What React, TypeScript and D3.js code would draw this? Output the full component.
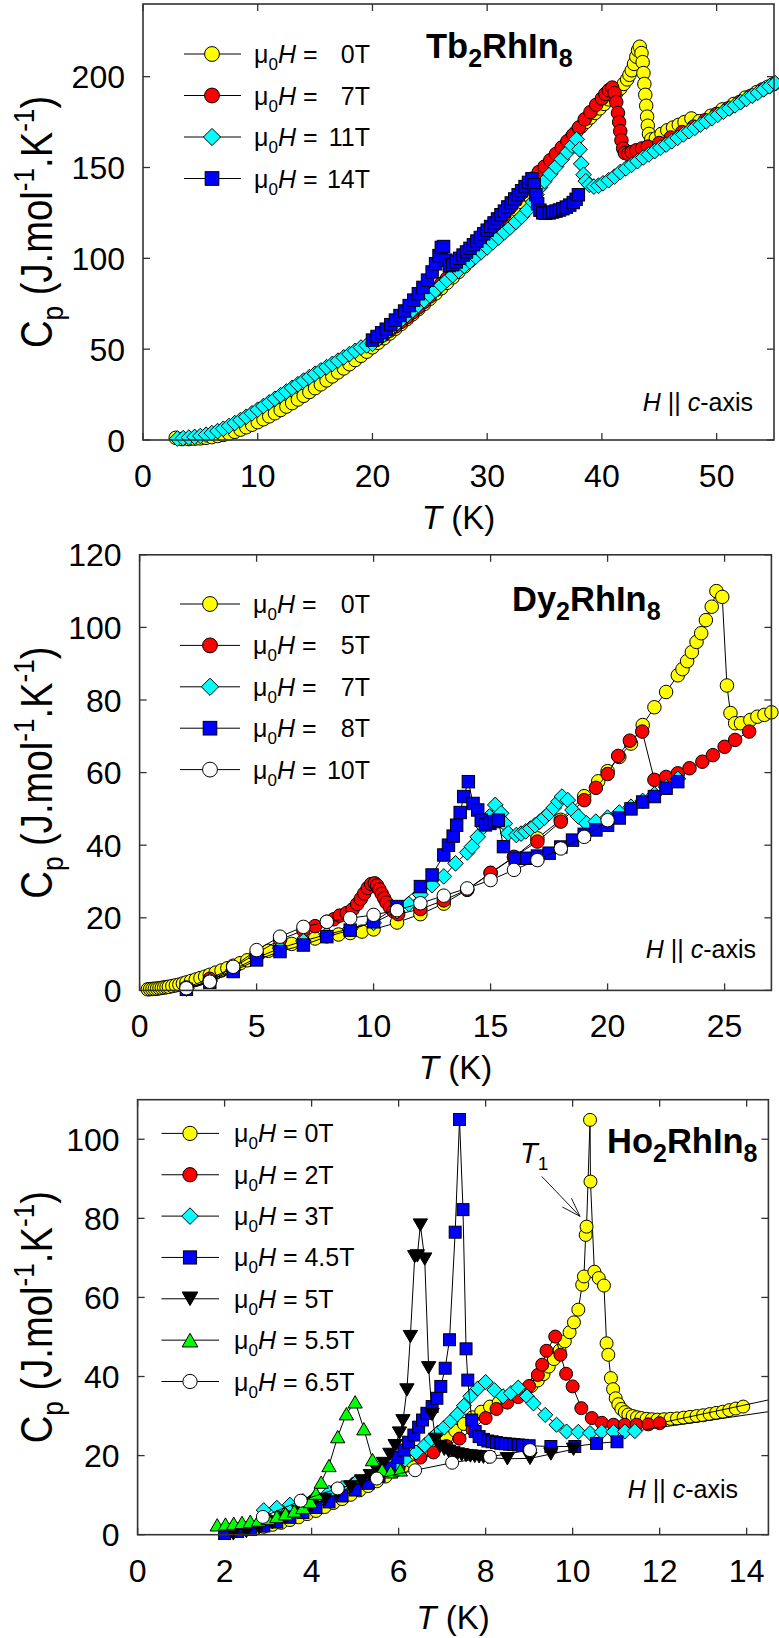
import React from "react";
import * as d3 from "d3";

type Pt = [number, number];
type Shape = "circle" | "square" | "diamond" | "triDown" | "triUp";

// ---------------- Tb2RhIn8 : Cp(T) in fields along c ----------------
const tbH0: Pt[] = [
  [2.85, 1.2], [3.4, 0.5], [4.0, 0.5], [4.5, 0.7], [5.0, 0.9], [5.5, 1.2], [6.0, 1.6], [6.5, 2.2], [7.0, 2.8],
  [7.5, 3.6], [8.0, 4.5], [8.5, 5.7], [9.0, 7.0], [9.5, 8.4], [10.0, 9.8], [10.5, 11.4], [11.0, 13.0],
  [11.5, 14.7], [12.0, 16.5], [12.5, 18.4], [13.0, 20.3], [13.5, 22.3], [14.0, 24.3], [14.5, 26.4],
  [15.0, 28.5], [15.5, 30.6], [16.0, 32.8], [16.5, 35.0], [17.0, 37.2], [17.5, 39.4], [18.0, 41.7],
  [18.5, 44.0], [19.0, 46.3], [19.5, 48.6], [20.0, 51.0], [20.5, 53.5], [21.0, 56.0], [21.5, 58.6],
  [22.0, 61.2], [22.5, 63.8], [23.0, 66.5], [23.5, 69.2], [24.0, 72.0], [24.5, 74.8], [25.0, 77.7],
  [25.5, 80.6], [26.0, 83.5], [26.5, 86.5], [27.0, 89.5], [27.5, 92.5], [28.0, 95.5], [28.5, 98.7],
  [29.0, 101.9], [29.5, 105.1], [30.0, 108.5], [30.5, 112.0], [31.0, 115.6], [31.5, 119.3], [32.0, 123.0],
  [32.5, 127.0], [33.0, 131.0], [33.5, 135.0], [34.0, 139.5], [34.5, 144.0], [35.0, 148.0], [35.4, 151.5],
  [35.8, 155.0], [36.2, 158.0], [36.6, 161.0], [37.0, 164.0], [37.4, 167.0], [37.8, 170.0], [38.2, 172.5],
  [38.6, 175.0], [39.0, 177.5], [39.4, 180.0], [39.8, 182.5], [40.2, 185.0], [40.6, 187.5], [41.0, 189.5],
  [41.3, 191.5], [41.6, 193.5], [41.9, 196.0], [42.2, 198.5], [42.4, 201.0], [42.6, 203.5], [42.8, 207.0],
  [43.0, 211.0], [43.15, 214.5], [43.3, 216.5], [43.45, 213.0], [43.55, 208.0], [43.62, 202.0],
  [43.7, 196.0], [43.78, 190.0], [43.86, 184.0], [43.94, 178.0], [44.0, 173.0], [44.1, 168.5],
  [44.3, 165.5], [44.7, 166.0], [45.2, 168.5], [45.7, 170.5], [46.2, 172.0], [46.7, 173.5], [47.2, 175.0],
  [47.8, 177.0], [48.5, 175.5], [49.5, 178.5], [50.5, 182.0], [51.5, 185.0], [52.5, 188.5], [53.5, 191.5],
  [54.5, 194.5],
];
const tbH7: Pt[] = [
  [20.0, 54.0], [20.5, 56.0], [21.0, 58.0], [21.5, 60.2], [22.0, 62.5], [22.5, 65.0], [23.0, 67.5],
  [23.5, 70.2], [24.0, 73.0], [24.5, 76.0], [25.0, 79.0], [25.5, 82.5], [26.0, 86.0], [26.5, 89.0],
  [27.0, 92.5], [27.5, 95.5], [28.0, 99.0], [28.5, 102.0], [29.0, 105.5], [29.5, 109.0], [30.0, 112.5],
  [30.5, 116.0], [31.0, 120.0], [31.5, 124.0], [32.0, 128.0], [32.5, 132.0], [33.0, 136.0], [33.5, 140.0],
  [34.0, 144.0], [34.5, 147.5], [35.0, 150.5], [35.5, 154.0], [36.0, 157.5], [36.5, 161.0], [37.0, 164.5],
  [37.5, 168.0], [38.0, 172.0], [38.5, 176.5], [39.0, 180.5], [39.5, 184.5], [40.0, 188.0], [40.3, 190.5],
  [40.6, 192.5], [40.9, 194.0], [41.1, 191.0], [41.25, 186.0], [41.4, 180.0], [41.5, 175.0], [41.6, 170.0],
  [41.7, 165.0], [41.85, 160.5], [42.0, 158.0], [42.3, 157.5], [42.6, 158.5], [43.0, 159.5], [43.5, 160.5],
  [44.0, 161.5], [45.0, 163.5], [46.0, 166.5], [47.0, 169.5], [48.0, 172.5], [49.0, 176.0], [50.0, 179.5],
  [51.0, 182.5], [52.0, 186.0], [53.0, 189.5], [54.0, 193.0], [55.0, 196.0],
];
const tbH11: Pt[] = [
  [3.0, 0.8], [3.5, 1.0], [4.0, 1.3], [4.5, 1.7], [5.0, 2.2], [5.5, 2.9], [6.0, 3.8], [6.5, 4.9], [7.0, 6.2],
  [7.5, 7.7], [8.0, 9.3], [8.5, 11.0], [9.0, 12.8], [9.5, 14.7], [10.0, 16.7], [10.5, 18.7], [11.0, 20.7],
  [11.5, 22.7], [12.0, 24.7], [12.5, 26.7], [13.0, 28.7], [13.5, 30.7], [14.0, 32.7], [14.5, 34.6],
  [15.0, 36.5], [15.5, 38.3], [16.0, 40.1], [16.5, 41.9], [17.0, 43.7], [17.5, 45.5], [18.0, 47.3],
  [18.5, 49.1], [19.0, 50.9], [19.5, 52.0], [20.0, 53.0], [20.5, 55.5], [21.0, 58.0], [21.5, 60.6],
  [22.0, 63.3], [22.5, 66.0], [23.0, 68.7], [23.5, 71.4], [24.0, 74.2], [24.5, 76.9], [25.0, 79.7],
  [25.5, 82.4], [26.0, 85.2], [26.5, 88.0], [27.0, 90.7], [27.5, 93.2], [28.0, 95.8], [28.5, 98.3],
  [29.0, 100.9], [29.5, 103.5], [30.0, 106.0], [30.5, 108.8], [31.0, 111.5], [31.5, 114.3], [32.0, 117.0],
  [32.5, 120.0], [33.0, 123.0], [33.5, 126.5], [34.0, 131.0], [34.3, 135.0], [34.6, 139.0], [35.0, 142.5],
  [35.5, 146.5], [36.0, 150.5], [36.5, 154.5], [37.0, 158.5], [37.4, 162.0], [37.8, 165.5], [38.05, 160.0],
  [38.2, 152.0], [38.4, 146.0], [38.6, 142.5], [38.9, 140.5], [39.3, 139.5], [39.7, 140.0], [40.1, 141.3],
  [40.6, 143.0], [41.1, 145.0], [41.6, 147.5], [42.1, 149.5], [42.6, 151.5], [43.1, 153.5], [43.6, 155.5],
  [44.1, 157.2], [44.6, 159.0], [45.1, 160.8], [45.6, 162.6], [46.1, 164.4], [46.6, 166.3], [47.1, 168.2],
  [47.6, 170.0], [48.1, 171.8], [48.6, 173.6], [49.1, 175.4], [49.6, 177.2], [50.1, 179.0], [50.6, 180.7],
  [51.1, 182.5], [51.6, 184.2], [52.1, 186.0], [52.6, 187.7], [53.1, 189.5], [53.6, 191.2], [54.1, 193.0],
  [54.6, 194.7], [55.1, 196.4],
];
const tbH14: Pt[] = [
  [20.0, 55.0], [20.4, 57.0], [20.8, 59.0], [21.2, 61.0], [21.6, 63.5], [22.0, 66.0], [22.4, 68.5],
  [22.8, 71.0], [23.2, 74.0], [23.6, 77.0], [24.0, 80.5], [24.4, 84.0], [24.8, 88.0], [25.2, 92.5],
  [25.5, 97.0], [25.8, 101.5], [26.0, 106.0], [26.2, 106.5], [26.4, 99.0], [26.7, 96.0], [27.0, 96.5],
  [27.3, 98.0], [27.6, 100.0], [27.9, 101.8], [28.2, 103.5], [28.5, 105.5], [28.8, 107.5], [29.1, 109.5],
  [29.4, 111.5], [29.7, 113.5], [30.0, 115.5], [30.3, 117.5], [30.6, 119.5], [30.9, 121.7], [31.2, 124.0],
  [31.5, 126.0], [31.8, 128.3], [32.1, 130.5], [32.4, 132.7], [32.7, 135.0], [33.0, 137.2], [33.3, 139.5],
  [33.6, 141.8], [33.9, 143.8], [34.1, 140.5], [34.25, 135.0], [34.4, 130.0], [34.6, 126.5], [34.85, 125.0],
  [35.1, 124.8], [35.4, 125.0], [35.7, 125.5], [36.0, 126.0], [36.3, 126.6], [36.6, 127.3], [36.9, 128.2],
  [37.2, 129.3], [37.5, 130.7], [37.75, 132.5], [37.95, 135.0],
];
const tbFields = ["0T", "7T", "11T", "14T"];
const tbXTicks = [0, 10, 20, 30, 40, 50];
const tbYTicks = [0, 50, 100, 150, 200];

// ---------------- Dy2RhIn8 ----------------
const dyH0: Pt[] = [
  [0.35, 0.3], [0.45, 0.35], [0.55, 0.4], [0.65, 0.45], [0.75, 0.5], [0.85, 0.6], [0.95, 0.7], [1.05, 0.8],
  [1.15, 0.9], [1.25, 1.0], [1.4, 1.2], [1.55, 1.4], [1.7, 1.6], [1.85, 1.9], [2.0, 2.2], [2.2, 2.6],
  [2.4, 3.0], [2.6, 3.4], [2.8, 3.8], [3.0, 4.3], [3.25, 4.9], [3.5, 5.5], [3.75, 6.1], [4.0, 6.8],
  [4.3, 7.5], [4.6, 8.3], [5.0, 9.6], [5.5, 10.9], [6.0, 11.9], [6.5, 12.8], [7.0, 13.6], [7.5, 14.3],
  [8.0, 14.9], [8.5, 15.4], [9.0, 15.8], [9.5, 16.2], [10.0, 16.8], [11.0, 18.7], [12.0, 21.0], [13.0, 23.9],
  [14.0, 27.7], [15.0, 32.3], [16.0, 36.7], [17.0, 41.9], [18.0, 47.0], [19.0, 53.5], [19.6, 57.6],
  [20.0, 60.4], [20.5, 64.3], [21.0, 68.0], [21.5, 73.1], [22.0, 78.0], [22.5, 82.2], [23.0, 86.8],
  [23.2, 88.5], [23.4, 90.7], [23.6, 93.2], [23.8, 96.0], [24.0, 98.4], [24.2, 102.0], [24.45, 105.7],
  [24.65, 110.0], [24.9, 108.4], [25.1, 84.0], [25.25, 76.4], [25.45, 73.6], [25.7, 73.6], [26.1, 74.5],
  [26.4, 75.4], [26.7, 75.9], [27.0, 76.6],
];
const dyH5: Pt[] = [
  [2.0, 0.8], [3.0, 3.2], [4.0, 6.3], [5.0, 10.2], [6.0, 14.0], [7.0, 16.5], [7.5, 17.7], [8.0, 18.9],
  [8.3, 19.6], [8.55, 20.6], [8.85, 21.3], [9.1, 22.3], [9.3, 23.8], [9.45, 25.2], [9.6, 26.7], [9.75, 28.2],
  [9.9, 29.3], [10.05, 29.5], [10.15, 28.9], [10.25, 27.8], [10.35, 26.6], [10.45, 25.4], [10.55, 24.2],
  [10.7, 22.9], [10.85, 21.8], [11.05, 21.0], [12.0, 22.4], [13.0, 24.8], [14.0, 27.8], [15.0, 32.4],
  [16.0, 36.8], [17.0, 41.0], [18.0, 46.5], [19.0, 52.4], [19.5, 55.8], [20.0, 59.6], [20.45, 64.6],
  [20.95, 68.8], [21.48, 71.3], [22.0, 58.0], [22.5, 58.8], [23.0, 59.8], [23.5, 61.2], [24.05, 63.0],
  [24.5, 64.8], [25.0, 67.1], [25.45, 69.0], [26.05, 71.3],
];
const dyH7: Pt[] = [
  [2.0, 0.5], [3.0, 2.6], [4.0, 5.6], [5.0, 9.0], [6.0, 11.6], [7.0, 13.6], [8.0, 15.4], [9.0, 17.0],
  [10.0, 18.6], [11.0, 21.8], [11.5, 23.8], [12.0, 26.4], [12.5, 29.0], [13.0, 31.4], [13.5, 35.0],
  [14.0, 38.0], [14.2, 39.6], [14.45, 42.3], [14.7, 45.1], [14.95, 47.9], [15.2, 51.1], [15.45, 48.8],
  [15.6, 46.0], [15.75, 43.3], [16.1, 42.8], [16.3, 43.2], [16.5, 43.8], [16.7, 44.6], [16.9, 45.5],
  [17.1, 46.5], [17.3, 47.6], [17.5, 48.8], [17.7, 50.3], [17.9, 52.0], [18.05, 53.4], [18.3, 52.4],
  [18.5, 49.7], [18.75, 47.9], [19.1, 46.0], [19.5, 46.5], [20.0, 47.6], [20.5, 49.0], [21.0, 50.6],
  [21.5, 52.2], [22.0, 54.0], [22.5, 56.0], [23.0, 58.3],
];
const dyH8: Pt[] = [
  [2.0, 0.3], [3.0, 2.2], [4.0, 5.2], [5.0, 8.4], [6.0, 10.7], [7.0, 12.5], [8.0, 14.8], [9.0, 16.6],
  [10.0, 18.9], [11.0, 23.1], [12.0, 28.6], [12.5, 31.8], [13.0, 37.3], [13.2, 40.0], [13.4, 42.5],
  [13.55, 45.5], [13.7, 49.0], [13.85, 53.4], [14.05, 57.5], [14.25, 51.5], [14.45, 49.7], [14.6, 46.9],
  [14.78, 45.6], [14.97, 46.0], [15.15, 46.5], [15.33, 46.9], [15.55, 39.6], [16.05, 36.4], [16.55, 36.4],
  [17.0, 37.0], [17.5, 37.8], [18.0, 39.5], [18.5, 41.4], [19.0, 43.0], [19.5, 44.2], [20.0, 45.5],
  [20.5, 47.5], [21.0, 50.0], [21.5, 51.9], [22.0, 53.4], [22.5, 55.7], [23.0, 57.5],
];
const dyH10: Pt[] = [
  [2.0, 0.6], [3.0, 2.4], [4.0, 6.5], [5.0, 11.1], [6.0, 14.8], [7.0, 17.5], [8.0, 18.9], [9.0, 19.9],
  [10.0, 20.8], [11.0, 22.1], [12.0, 24.0], [13.0, 26.1], [14.0, 28.1], [15.0, 30.4], [16.0, 33.2],
  [17.0, 35.9], [18.0, 39.1], [19.0, 42.3], [20.0, 46.9],
];
const dyFields = ["0T", "5T", "7T", "8T", "10T"];
const dyXTicks = [0, 5, 10, 15, 20, 25];
const dyYTicks = [0, 20, 40, 60, 80, 100, 120];

// ---------------- Ho2RhIn8 ----------------
const hoH0: Pt[] = [
  [2.7, 1.6], [2.9, 2.0], [3.1, 2.5], [3.3, 3.0], [3.5, 3.7], [3.7, 4.4], [3.9, 5.2], [4.1, 6.0], [4.3, 7.0],
  [4.5, 8.0], [4.7, 9.0], [4.9, 10.1], [5.1, 11.2], [5.3, 12.3], [5.5, 13.5], [5.7, 14.7], [5.9, 16.0],
  [6.1, 17.2], [6.3, 18.5], [6.5, 19.9], [6.7, 21.4], [6.9, 23.0], [7.1, 24.6], [7.3, 26.3], [7.5, 28.0],
  [7.7, 29.7], [7.9, 31.1], [8.1, 32.4], [8.3, 33.4], [8.5, 34.4], [8.7, 35.4], [8.9, 36.5], [9.05, 37.6],
  [9.2, 39.0], [9.33, 40.6], [9.45, 42.5], [9.57, 44.4], [9.7, 46.6], [9.82, 48.9], [9.93, 51.2],
  [10.03, 53.7], [10.13, 56.9], [10.22, 63.2], [10.26, 65.3], [10.3, 75.8], [10.32, 77.9], [10.4, 104.9],
  [10.41, 89.3], [10.5, 66.5], [10.6, 64.9], [10.72, 63.0], [10.78, 48.4], [10.82, 45.5], [10.88, 39.6],
  [10.93, 36.8], [10.99, 34.5], [11.05, 33.0], [11.12, 31.8], [11.2, 31.0], [11.28, 30.4], [11.38, 30.0],
  [11.48, 29.7], [11.58, 29.5], [11.7, 29.3], [11.82, 29.2], [11.95, 29.1], [12.1, 29.2], [12.25, 29.3],
  [12.4, 29.4], [12.55, 29.6], [12.7, 29.8], [12.85, 30.0], [13.0, 30.2], [13.15, 30.5], [13.3, 30.8],
  [13.45, 31.1], [13.6, 31.5], [13.75, 31.9], [13.92, 32.4],
];
const hoH2: Pt[] = [
  [3.0, 3.6], [3.5, 5.6], [4.0, 8.2], [4.5, 10.8], [5.0, 13.0], [5.5, 15.0], [6.0, 17.0], [6.5, 19.5],
  [6.8, 20.8], [7.1, 22.4], [7.4, 24.3], [7.7, 26.6], [8.0, 29.5], [8.25, 31.8], [8.5, 33.4], [8.75, 34.8],
  [9.0, 37.6], [9.2, 40.4], [9.3, 43.0], [9.4, 46.5], [9.6, 50.1], [9.72, 45.5], [9.85, 40.7], [10.0, 37.5],
  [10.2, 32.0], [10.44, 29.5], [10.67, 28.3], [10.94, 27.8], [11.2, 27.8], [11.47, 27.8], [11.74, 27.9],
  [12.0, 28.2], [16.0, 37.6],
];
const hoH3: Pt[] = [
  [2.9, 6.2], [3.2, 6.8], [3.5, 7.6], [3.8, 8.5], [4.1, 9.5], [4.4, 10.6], [4.7, 11.8], [5.0, 13.0],
  [5.3, 14.3], [5.6, 15.7], [5.9, 17.3], [6.15, 19.0], [6.4, 20.8], [6.6, 22.6], [6.75, 24.2], [6.9, 25.8],
  [7.05, 27.1], [7.2, 28.7], [7.35, 30.4], [7.5, 32.6], [7.65, 35.0], [7.82, 37.0], [8.0, 38.6], [8.2, 36.6],
  [8.4, 35.0], [8.58, 35.8], [8.75, 37.2], [8.95, 35.0], [9.1, 33.2], [9.37, 30.3], [9.63, 27.8],
  [9.86, 26.1], [10.13, 26.0], [10.4, 25.7], [10.67, 26.0], [10.94, 26.0], [11.2, 26.1], [11.43, 26.2],
  [16.0, 33.5],
];
const hoH45: Pt[] = [
  [2.0, 0.3], [2.3, 0.8], [2.6, 1.3], [2.9, 2.2], [3.2, 3.2], [3.5, 4.4], [3.8, 5.6], [4.1, 6.9], [4.4, 8.3],
  [4.7, 9.8], [5.0, 11.3], [5.3, 13.0], [5.55, 14.8], [5.8, 16.9], [5.98, 19.5], [6.12, 21.4], [6.23, 23.4],
  [6.35, 25.2], [6.46, 27.2], [6.55, 29.0], [6.65, 30.7], [6.77, 32.4], [6.88, 34.5], [6.97, 37.5],
  [7.07, 42.1], [7.17, 49.3], [7.3, 76.5], [7.4, 105.0], [7.48, 82.2], [7.55, 47.0], [7.59, 39.1],
  [7.68, 29.0], [7.76, 26.1], [7.85, 24.8], [7.95, 24.1], [8.05, 23.7], [8.15, 23.5], [8.25, 23.3],
  [8.35, 23.1], [8.45, 23.0], [8.55, 22.9], [8.65, 22.8], [8.75, 22.7], [8.85, 22.6], [9.0, 22.5],
  [9.5, 22.3], [10.05, 22.3], [10.55, 23.1], [11.02, 23.5],
];
const hoH5: Pt[] = [
  [2.2, 0.2], [2.5, 0.8], [2.8, 1.8], [3.1, 3.0], [3.4, 4.4], [3.7, 5.8], [4.0, 7.3], [4.3, 8.9], [4.6, 10.5],
  [4.9, 12.1], [5.15, 13.6], [5.35, 14.9], [5.5, 16.2], [5.65, 18.0], [5.8, 20.3], [5.92, 22.5], [6.02, 25.7],
  [6.1, 28.8], [6.19, 36.6], [6.27, 50.1], [6.37, 70.3], [6.43, 70.5], [6.5, 78.3], [6.6, 69.7], [6.69, 42.2],
  [6.77, 30.4], [6.85, 24.1], [6.95, 22.3], [7.05, 21.6], [7.15, 21.1], [7.25, 20.7], [7.35, 20.4],
  [7.45, 20.2], [7.55, 20.0], [7.65, 19.9], [7.75, 19.8], [7.85, 19.7], [7.95, 19.6], [8.05, 19.5],
  [8.5, 19.2], [9.02, 19.3], [9.5, 20.4], [10.02, 21.6],
];
const hoH55: Pt[] = [
  [1.83, 2.5], [2.02, 2.7], [2.21, 2.9], [2.4, 3.1], [2.59, 3.4], [2.78, 3.7], [3.0, 4.1], [3.2, 4.6],
  [3.4, 5.3], [3.6, 6.0], [3.8, 6.9], [3.97, 8.4], [4.1, 10.5], [4.22, 13.3], [4.4, 17.5], [4.6, 24.8],
  [4.8, 30.6], [5.0, 33.6], [5.2, 26.8], [5.4, 19.0], [5.62, 16.4], [5.82, 15.9], [6.04, 16.4],
];
const hoH65: Pt[] = [
  [2.88, 4.5], [3.75, 8.6], [4.6, 11.7], [5.5, 14.2], [6.38, 16.3], [7.23, 18.2], [8.1, 19.7], [9.02, 21.4],
];
const hoFields = ["0T", "2T", "3T", "4.5T", "5T", "5.5T", "6.5T"];
const hoXTicks = [0, 2, 4, 6, 8, 10, 12, 14];
const hoYTicks = [0, 20, 40, 60, 80, 100];
// T1 marker: label anchor and arrow (tail, head) in data units
const hoT1Label: Pt = [8.79, 94.1];
const hoT1Arrow: Pt[] = [[9.29, 90.6], [10.17, 80.5]];

// ---------------- drawing ----------------
const FONT = "'Liberation Sans', Arial, Helvetica, sans-serif";
const FRAME = "#333";
const TICK_FONT = 32;
const LEGEND_FONT = 25;

interface Series {
  pts: Pt[];
  shape: Shape;
  fill: string;
  field: string;
}

interface PanelCfg {
  id: string;
  box: { left: number; right: number; top: number; bottom: number };
  xDomain: [number, number];
  yDomain: [number, number];
  xTicks: number[];
  yTicks: number[];
  series: Series[];
  markerSize: number;
  legend: { x1: number; x2: number; mx: number; tx: number; y0: number; dy: number; valueRight?: number };
  title: { head: string; x: number; y: number };
  note: { x: number; y: number };
  xTitleGap: number;
}

function markerEl(shape: Shape, x: number, y: number, s: number, fill: string, key?: React.Key) {
  const common = { fill, stroke: "#000", strokeWidth: 1 };
  if (shape === "circle") return <circle key={key} cx={x} cy={y} r={s / 2} {...common} />;
  if (shape === "square") {
    const a = s * 0.92;
    return <rect key={key} x={x - a / 2} y={y - a / 2} width={a} height={a} {...common} />;
  }
  if (shape === "diamond") {
    const h = s * 0.58;
    return <path key={key} d={`M${x},${y - h}L${x + h},${y}L${x},${y + h}L${x - h},${y}Z`} {...common} />;
  }
  const w = s * 1.1;
  const h = s * 0.95;
  if (shape === "triDown")
    return <path key={key} d={`M${x - w / 2},${y - h / 2}L${x + w / 2},${y - h / 2}L${x},${y + h / 2}Z`} {...common} />;
  return <path key={key} d={`M${x - w / 2},${y + h / 2}L${x + w / 2},${y + h / 2}L${x},${y - h / 2}Z`} {...common} />;
}

function Panel({ cfg }: { cfg: PanelCfg }) {
  const { box } = cfg;
  const x = d3.scaleLinear().domain(cfg.xDomain).range([box.left, box.right]);
  const y = d3.scaleLinear().domain(cfg.yDomain).range([box.bottom, box.top]);
  const line = d3
    .line<Pt>()
    .x((d) => x(d[0]))
    .y((d) => y(d[1]));
  const tick = 7;
  const w = box.right - box.left;
  const h = box.bottom - box.top;
  const cx = (box.left + box.right) / 2;
  const cy = (box.top + box.bottom) / 2;
  const lineClip = `lc-${cfg.id}`;
  const markClip = `mc-${cfg.id}`;
  const lg = cfg.legend;
  const titleParts = cfg.title.head.split(/(\d)/).filter((s) => s.length > 0);
  const sub = Math.round(LEGEND_FONT * 0.68);

  return (
    <g>
      <defs>
        <clipPath id={lineClip}>
          <rect x={box.left} y={box.top} width={w} height={h} />
        </clipPath>
        <clipPath id={markClip}>
          <rect x={box.left - 12} y={box.top - 12} width={w + 24} height={h + 24} />
        </clipPath>
      </defs>

      {/* ticks on all four sides, pointing inward */}
      {cfg.xTicks.map((t) => (
        <g key={`xt${t}`}>
          <line x1={x(t)} x2={x(t)} y1={box.bottom} y2={box.bottom - tick} stroke={FRAME} strokeWidth={1.3} />
          <line x1={x(t)} x2={x(t)} y1={box.top} y2={box.top + tick} stroke={FRAME} strokeWidth={1.3} />
          <text x={x(t)} y={box.bottom + 47} fontSize={TICK_FONT} textAnchor="middle" fontFamily={FONT}>
            {t}
          </text>
        </g>
      ))}
      {cfg.yTicks.map((t) => (
        <g key={`yt${t}`}>
          <line x1={box.left} x2={box.left + tick} y1={y(t)} y2={y(t)} stroke={FRAME} strokeWidth={1.3} />
          <line x1={box.right} x2={box.right - tick} y1={y(t)} y2={y(t)} stroke={FRAME} strokeWidth={1.3} />
          <text x={box.left - 18} y={y(t) + 11.5} fontSize={TICK_FONT} textAnchor="end" fontFamily={FONT}>
            {t}
          </text>
        </g>
      ))}

      {/* data */}
      {cfg.series.map((s, i) => (
        <g key={`s${i}`}>
          <path d={line(s.pts) || ""} fill="none" stroke="#000" strokeWidth={1} clipPath={`url(#${lineClip})`} />
          <g clipPath={`url(#${markClip})`}>
            {s.pts
              .filter((p) => p[0] <= cfg.xDomain[1] + 0.5)
              .map((p, j) => markerEl(s.shape, x(p[0]), y(p[1]), cfg.markerSize, s.fill, j))}
          </g>
        </g>
      ))}

      <rect x={box.left} y={box.top} width={w} height={h} fill="none" stroke={FRAME} strokeWidth={1.6} />

      {/* legend */}
      {cfg.series.map((s, i) => {
        const ly = lg.y0 + i * lg.dy;
        return (
          <g key={`lg${i}`} fontFamily={FONT} fontSize={LEGEND_FONT}>
            <line x1={lg.x1} x2={lg.x2} y1={ly} y2={ly} stroke="#000" strokeWidth={1} />
            {markerEl(s.shape, lg.mx, ly, cfg.markerSize * 1.1, s.fill)}
            <text x={lg.tx} y={ly + 9}>
              μ<tspan fontSize={sub} dy={7}>0</tspan>
              <tspan dy={-7} fontStyle="italic">H</tspan>
              <tspan>{lg.valueRight ? " =" : ` = ${s.field}`}</tspan>
            </text>
            {lg.valueRight ? (
              <text x={lg.valueRight} y={ly + 9} textAnchor="end">
                {s.field}
              </text>
            ) : null}
          </g>
        );
      })}

      {/* compound name */}
      <text x={cfg.title.x} y={cfg.title.y} fontFamily={FONT} fontWeight="bold" fontSize={34.5}>
        {titleParts.map((p, k) =>
          /\d/.test(p) ? (
            <tspan key={k} fontSize={25} dy={9}>
              {p}
            </tspan>
          ) : (
            <tspan key={k} dy={k > 0 ? -9 : 0}>
              {p}
            </tspan>
          )
        )}
      </text>

      {/* field direction */}
      <text x={cfg.note.x} y={cfg.note.y} fontFamily={FONT} fontSize={25} textAnchor="end">
        <tspan fontStyle="italic">H</tspan> || <tspan fontStyle="italic">c</tspan>-axis
      </text>

      {/* axis titles */}
      <text x={cx} y={box.bottom + cfg.xTitleGap} fontFamily={FONT} fontSize={33} textAnchor="middle">
        <tspan fontStyle="italic">T</tspan> (K)
      </text>
      <g transform={`translate(52,${cy}) rotate(-90) scale(0.87,1)`}>
        <text x={0} y={0} fontFamily={FONT} fontSize={44} textAnchor="middle">
          C<tspan fontSize={30} dy={11}>p</tspan>
          <tspan dy={-11}>{"\u00a0(J.mol"}</tspan>
          <tspan fontSize={30} dy={-18}>-1</tspan>
          <tspan dy={18}>.K</tspan>
          <tspan fontSize={30} dy={-18}>-1</tspan>
          <tspan dy={18}>)</tspan>
        </text>
      </g>
    </g>
  );
}

const panels: PanelCfg[] = [
  {
    id: "tb",
    box: { left: 143, right: 774, top: 4, bottom: 440 },
    xDomain: [0, 55],
    yDomain: [0, 240],
    xTicks: tbXTicks,
    yTicks: tbYTicks,
    series: [
      { pts: tbH0, shape: "circle", fill: "#ffff00", field: tbFields[0] },
      { pts: tbH7, shape: "circle", fill: "#ff0000", field: tbFields[1] },
      { pts: tbH11, shape: "diamond", fill: "#00ffff", field: tbFields[2] },
      { pts: tbH14, shape: "square", fill: "#0000ff", field: tbFields[3] },
    ],
    markerSize: 13.5,
    legend: { x1: 184, x2: 241, mx: 212, tx: 254, y0: 54, dy: 41.5, valueRight: 370 },
    title: { head: "Tb2RhIn8", x: 426, y: 58 },
    note: { x: 753, y: 411 },
    xTitleGap: 89,
  },
  {
    id: "dy",
    box: { left: 139.6, right: 771.4, top: 554.8, bottom: 990.4 },
    xDomain: [0, 27],
    yDomain: [0, 120],
    xTicks: dyXTicks,
    yTicks: dyYTicks,
    series: [
      { pts: dyH0, shape: "circle", fill: "#ffff00", field: dyFields[0] },
      { pts: dyH5, shape: "circle", fill: "#ff0000", field: dyFields[1] },
      { pts: dyH7, shape: "diamond", fill: "#00ffff", field: dyFields[2] },
      { pts: dyH8, shape: "square", fill: "#0000ff", field: dyFields[3] },
      { pts: dyH10, shape: "circle", fill: "#ffffff", field: dyFields[4] },
    ],
    markerSize: 13.5,
    legend: { x1: 180, x2: 240, mx: 210, tx: 253, y0: 604, dy: 41.4, valueRight: 370 },
    title: { head: "Dy2RhIn8", x: 512, y: 611 },
    note: { x: 756, y: 958 },
    xTitleGap: 89,
  },
  {
    id: "ho",
    box: { left: 137.6, right: 768.4, top: 1099.7, bottom: 1534.7 },
    xDomain: [0, 14.5],
    yDomain: [0, 110],
    xTicks: hoXTicks,
    yTicks: hoYTicks,
    series: [
      { pts: hoH0, shape: "circle", fill: "#ffff00", field: hoFields[0] },
      { pts: hoH2, shape: "circle", fill: "#ff0000", field: hoFields[1] },
      { pts: hoH3, shape: "diamond", fill: "#00ffff", field: hoFields[2] },
      { pts: hoH45, shape: "square", fill: "#0000ff", field: hoFields[3] },
      { pts: hoH5, shape: "triDown", fill: "#000000", field: hoFields[4] },
      { pts: hoH55, shape: "triUp", fill: "#00ff00", field: hoFields[5] },
      { pts: hoH65, shape: "circle", fill: "#ffffff", field: hoFields[6] },
    ],
    markerSize: 13,
    legend: { x1: 161.5, x2: 219, mx: 190, tx: 234, y0: 1133.4, dy: 41.35 },
    title: { head: "Ho2RhIn8", x: 607, y: 1153 },
    note: { x: 738, y: 1498 },
    xTitleGap: 94,
  },
];

function T1Annotation() {
  const cfg = panels[2];
  const x = d3.scaleLinear().domain(cfg.xDomain).range([cfg.box.left, cfg.box.right]);
  const y = d3.scaleLinear().domain(cfg.yDomain).range([cfg.box.bottom, cfg.box.top]);
  const [a, b] = hoT1Arrow;
  const x1 = x(a[0]), y1 = y(a[1]), x2 = x(b[0]), y2 = y(b[1]);
  const ang = Math.atan2(y2 - y1, x2 - x1);
  const len = 20;
  const spread = 0.32;
  const h1x = x2 - len * Math.cos(ang - spread), h1y = y2 - len * Math.sin(ang - spread);
  const h2x = x2 - len * Math.cos(ang + spread), h2y = y2 - len * Math.sin(ang + spread);
  return (
    <g>
      <text x={x(hoT1Label[0])} y={y(hoT1Label[1])} fontFamily={FONT} fontSize={29}>
        <tspan fontStyle="italic">T</tspan>
        <tspan fontSize={19} dy={7}>1</tspan>
      </text>
      <line x1={x1} y1={y1} x2={x2} y2={y2} stroke="#000" strokeWidth={0.9} />
      <polyline points={`${h1x},${h1y} ${x2},${y2} ${h2x},${h2y}`} fill="none" stroke="#000" strokeWidth={0.9} />
    </g>
  );
}

export default function App() {
  return (
    <svg
      width={779}
      height={1638}
      viewBox="0 0 779 1638"
      style={{ position: "absolute", left: 0, top: 0, background: "#fff", display: "block" }}
    >
      <rect x={0} y={0} width={779} height={1638} fill="#fff" />
      {panels.map((p) => (
        <Panel key={p.id} cfg={p} />
      ))}
      <T1Annotation />
    </svg>
  );
}
